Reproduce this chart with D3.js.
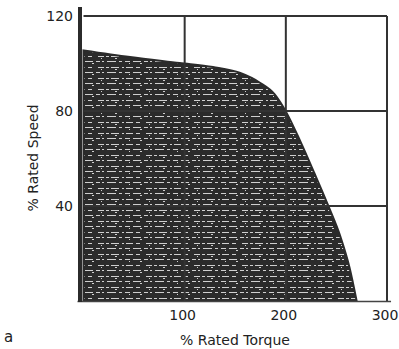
<!DOCTYPE html>
<html>
<head>
<meta charset="utf-8">
<script src="https://cdn.jsdelivr.net/npm/d3@7"></script>
<style>
  body { margin: 0; background: #fff; }
  text { font-family: "DejaVu Sans", sans-serif; fill: #222; }
</style>
</head>
<body>
<svg id="chart" width="399" height="349"></svg>
<script>
// values
const torque = [0, 46, 95, 128, 155, 174, 189, 201, 214, 228, 242, 254, 263, 270];
const speed = [105.5, 102.7, 100.2, 98.5, 96, 92, 87, 79, 67.5, 54, 40, 27, 14, 0];
const xTicks = [100, 200, 300];
const yTicks = [40, 80, 120];
const tailEnd = 304;

const svg = d3.select('#chart');
const x = d3.scaleLinear().domain([0, 300]).range([83.5, 387]);
const y = d3.scaleLinear().domain([0, 120]).range([301, 16]);
const ink = "#2b2b2b";

// speckle texture for the filled region
const defs = svg.append("defs");
const pat = defs.append("pattern")
    .attr("id", "speckle")
    .attr("patternUnits", "userSpaceOnUse")
    .attr("width", 48).attr("height", 11);
pat.append("rect").attr("width", 48).attr("height", 11).attr("fill", ink);
const dashes = [[2,1,6],[10,1,3],[15,1,8],[26,1,2],[30,1,7],[40,1,4],
                [0,6,4],[6,6,2],[11,6,9],[23,6,3],[29,6,5],[37,6,8],
                [5,3,1],[19,3,2],[33,8,1],[44,8,2]];
dashes.forEach(d => pat.append("rect")
    .attr("x", d[0]).attr("y", d[1]).attr("width", d[2]).attr("height", 1)
    .attr("fill", "#cfcfcf"));

const pts = torque.map((t, i) => ({ t, s: speed[i] }));

const area = d3.area()
    .x(d => x(d.t))
    .y0(y(0))
    .y1(d => y(d.s))
    .curve(d3.curveMonotoneX);

svg.append("path")
    .datum(pts)
    .attr("d", area)
    .attr("fill", "url(#speckle)")
    .attr("stroke", ink)
    .attr("stroke-width", 2);

// grid lines
const g = svg.append("g");
xTicks.forEach(t => g.append("line")
    .attr("x1", x(t)).attr("x2", x(t))
    .attr("y1", y(120)).attr("y2", y(0))
    .attr("stroke", "#333").attr("stroke-width", 2));
yTicks.forEach(s => g.append("line")
    .attr("x1", x(0)).attr("x2", x(300))
    .attr("y1", y(s)).attr("y2", y(s))
    .attr("stroke", "#333").attr("stroke-width", 2));

// bottom baseline and tail
svg.append("line")
    .attr("x1", x(0) - 6).attr("x2", x(tailEnd))
    .attr("y1", y(0) + 0.5).attr("y2", y(0) + 0.5)
    .attr("stroke", "#444").attr("stroke-width", 1.5);

// thick left axis
svg.append("line")
    .attr("x1", x(0) - 3.5).attr("x2", x(0) - 3.5)
    .attr("y1", 7).attr("y2", y(0) + 1)
    .attr("stroke", ink).attr("stroke-width", 4);

// tick labels
svg.append("g").selectAll("text")
    .data(yTicks).join("text")
    .attr("x", 73)
    .attr("y", d => y(d))
    .attr("dy", "0.35em")
    .attr("text-anchor", "end")
    .attr("font-size", 14)
    .text(d => d);

svg.append("g").selectAll("text")
    .data(xTicks).join("text")
    .attr("x", d => x(d) - 2)
    .attr("y", 320)
    .attr("text-anchor", "middle")
    .attr("font-size", 14)
    .text(d => d);

svg.append("text")
    .attr("x", 235).attr("y", 345)
    .attr("text-anchor", "middle")
    .attr("font-size", 14)
    .text("% Rated Torque");

svg.append("text")
    .attr("transform", "translate(38,158) rotate(-90)")
    .attr("text-anchor", "middle")
    .attr("font-size", 14)
    .text("% Rated Speed");

svg.append("text")
    .attr("x", 4).attr("y", 342)
    .attr("font-size", 15)
    .text("a");
</script>
</body>
</html>
